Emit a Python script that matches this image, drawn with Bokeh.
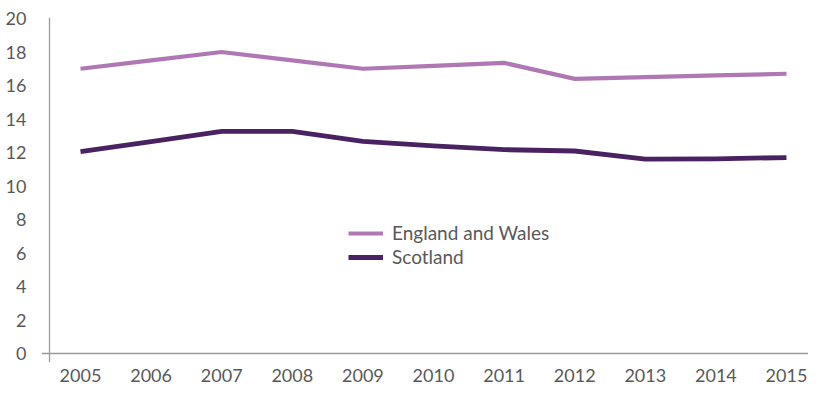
from bokeh.plotting import figure
from bokeh.models import Span, FixedTicker, Legend, LegendItem, Range1d
from bokeh.embed import file_html
from bokeh.resources import INLINE

years = [2005, 2006, 2007, 2008, 2009, 2010, 2011, 2012, 2013, 2014, 2015]
england_wales = [17.0, 17.5, 18.0, 17.5, 17.0, 17.17, 17.35, 16.4, 16.5, 16.6, 16.7]
scotland = [12.05, 12.65, 13.26, 13.26, 12.67, 12.4, 12.17, 12.09, 11.6, 11.62, 11.7]
y_ticks = [0, 2, 4, 6, 8, 10, 12, 14, 16, 18, 20]
series_names = ["England and Wales", "Scotland"]

FONT = "Lato"
TXT = "#595959"
AXC = "#9a9a9a"
C_EW = "#af78b4"
C_SC = "#4a2262"

# layout (pixels)
W, H = 808, 384
FL, FT, FB = 41, 17, 362          # frame left, top, bottom
X_FIRST, X_LAST = 80, 786         # pixel of first / last year
Y0, Y20 = 353, 18                 # pixel of value 0 / 20
kx = (X_LAST - X_FIRST) / (years[-1] - years[0])
ky = (Y0 - Y20) / 20.0

p = figure(width=W, height=H, output_backend="svg", toolbar_location=None,
           x_range=Range1d(years[0] - (X_FIRST - FL) / kx, years[-1] + (W - X_LAST) / kx),
           y_range=Range1d(-(FB - Y0) / ky, 20 + (Y20 - FT) / ky),
           min_border_left=FL, min_border_top=FT, min_border_right=0,
           min_border_bottom=H - FB)

p.outline_line_color = None
p.border_fill_color = "white"
p.background_fill_color = "white"
p.xgrid.visible = False
p.ygrid.visible = False

for ax in (p.xaxis[0], p.yaxis[0]):
    ax.axis_line_color = None
    ax.major_tick_line_color = None
    ax.minor_tick_line_color = None
    ax.major_label_text_font = FONT
    ax.major_label_text_font_size = "18px"
    ax.major_label_text_color = TXT

p.yaxis.ticker = FixedTicker(ticks=y_ticks)
p.yaxis.major_label_standoff = 9
p.xaxis.ticker = FixedTicker(ticks=years)
p.xaxis.major_label_standoff = 0

# axis lines (x axis at zero, y axis slightly inside the frame)
p.add_layout(Span(location=0, dimension="width", line_color=AXC, line_width=1.3))
p.add_layout(Span(location=years[0] - (X_FIRST - 49) / kx, dimension="height",
                  line_color=AXC, line_width=1.3))

r1 = p.line(years, england_wales, line_color=C_EW, line_width=4.2, line_join="miter")
r2 = p.line(years, scotland, line_color=C_SC, line_width=4.8, line_join="miter")

legend = Legend(items=[LegendItem(label=series_names[0], renderers=[r1]),
                       LegendItem(label=series_names[1], renderers=[r2])],
                location=(307, 94), padding=0, margin=0, spacing=1,
                glyph_width=35, glyph_height=20, label_height=20, label_standoff=9,
                label_text_font=FONT, label_text_font_size="19px", label_text_color=TXT,
                border_line_color=None, background_fill_alpha=0)
p.add_layout(legend, "center")

open("out.html", "w").write(file_html(p, INLINE))
